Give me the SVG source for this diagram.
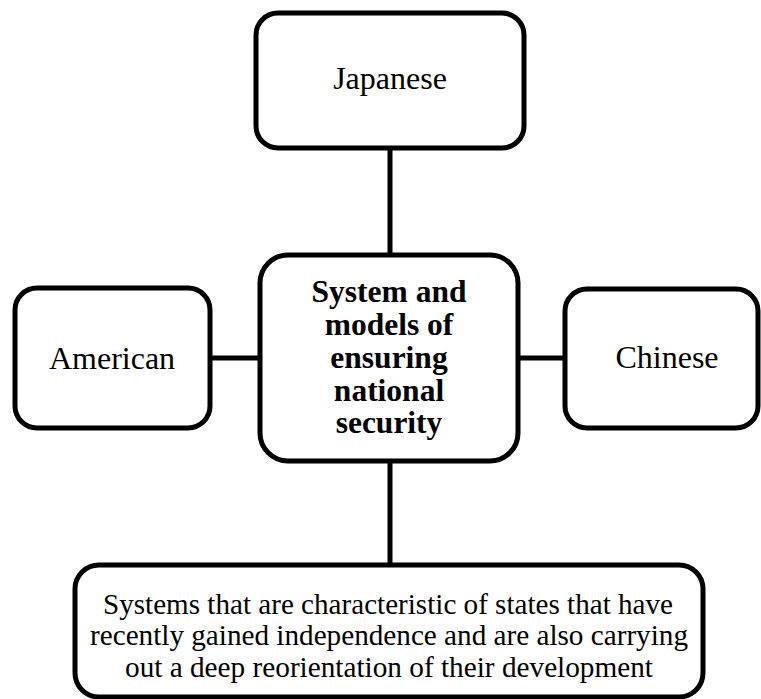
<svg xmlns="http://www.w3.org/2000/svg" width="761" height="699" viewBox="0 0 761 699">
<style>
.box{fill:#fff;stroke:#000;stroke-width:5}
.ln{stroke:#000;stroke-width:5;fill:none}
text{font-family:"Liberation Serif","Times New Roman",serif;fill:#000;text-anchor:middle}
.t{font-size:32px}
.b{font-size:31.5px;font-weight:bold}
.s{font-size:28.5px}
</style>
<rect width="761" height="699" fill="#fff"/>
<g id="connectors">
<line class="ln" x1="390" y1="148" x2="390" y2="256"/>
<line class="ln" x1="390" y1="460" x2="390" y2="566"/>
<line class="ln" x1="209" y1="358" x2="261" y2="358"/>
<line class="ln" x1="517" y1="358" x2="566" y2="358"/>
</g>
<g id="japanese">
<rect class="box" x="256" y="13" width="268" height="135" rx="22"/>
<text class="t" x="390" y="89">Japanese</text>
</g>
<g id="center">
<rect class="box" x="260" y="255" width="258" height="206" rx="28"/>
<text class="b" x="389" y="302"><tspan x="389">System and</tspan><tspan x="389" dy="33">models of</tspan><tspan x="389" dy="33">ensuring</tspan><tspan x="389" dy="33">national</tspan><tspan x="389" dy="32">security</tspan></text>
</g>
<g id="american">
<rect class="box" x="15" y="288" width="195" height="140" rx="22"/>
<text class="t" x="112" y="369">American</text>
</g>
<g id="chinese">
<rect class="box" x="565" y="289" width="193" height="139" rx="22"/>
<text class="t" x="667" y="368">Chinese</text>
</g>
<g id="newstates">
<rect class="box" x="75" y="565" width="628" height="132" rx="24"/>
<text class="s" x="388" y="613.5" textLength="570" lengthAdjust="spacingAndGlyphs">Systems that are characteristic of states that have</text>
<text class="s" x="389" y="645" textLength="598" lengthAdjust="spacingAndGlyphs">recently gained independence and are also carrying</text>
<text class="s" x="389" y="676.5" textLength="528" lengthAdjust="spacingAndGlyphs">out a deep reorientation of their development</text>
</g>
</svg>
